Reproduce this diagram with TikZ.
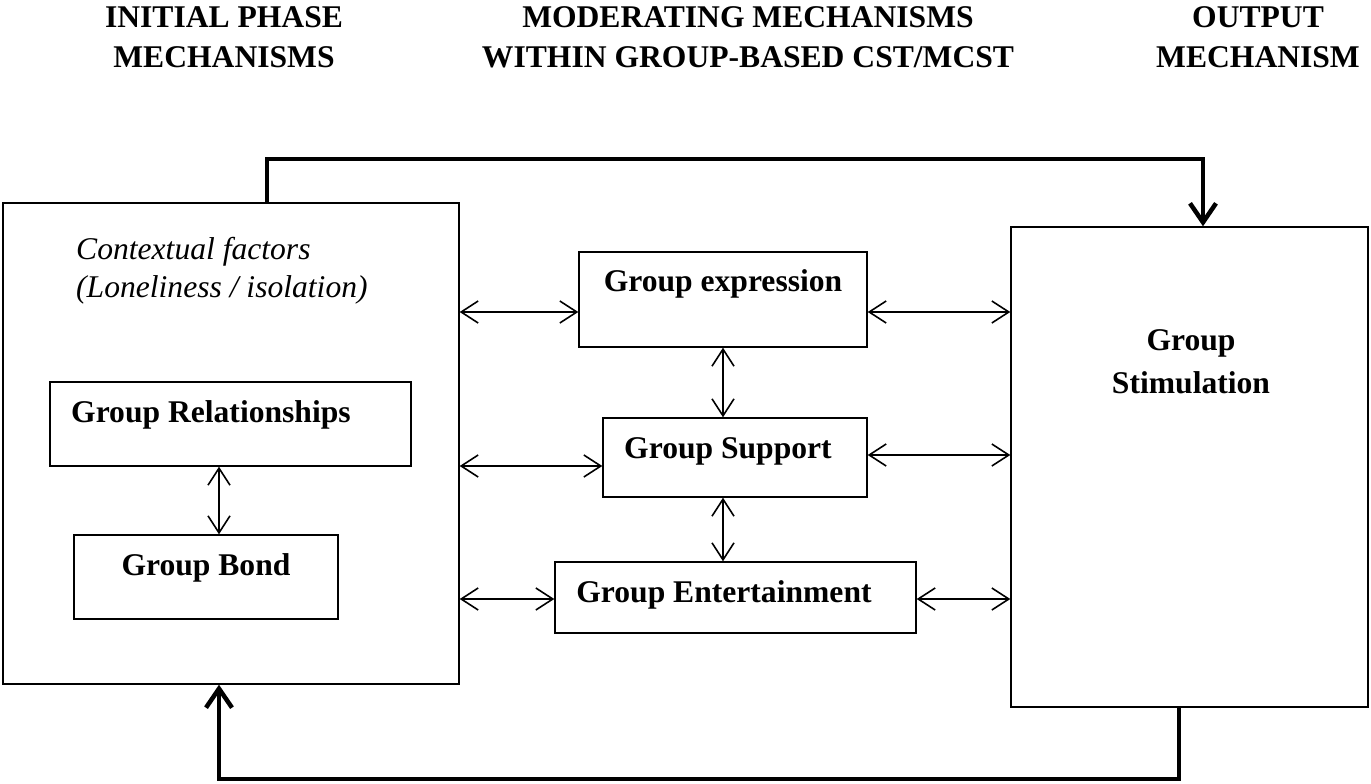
\documentclass[tikz,border=0pt]{standalone}
\usepackage{fontspec}
\setmainfont{Liberation Serif}
\usetikzlibrary{arrows.meta}
\begin{document}
\begin{tikzpicture}[x=1pt,y=-1pt,
  box/.style={draw, line width=1.4pt, rectangle, inner sep=0pt},
  lbl/.style={font=\fontsize{31.6}{37}\selectfont\bfseries, inner sep=0pt},
  ital/.style={font=\fontsize{31.6}{37}\selectfont\itshape, inner sep=0pt},
  arr/.style={line width=1.6pt, {Straight Barb[length=17pt,width=22pt]}-{Straight Barb[length=17pt,width=22pt]}},
  fat/.style={line width=4.5pt, line join=miter, -{Straight Barb[length=19pt,width=26pt]}}
]
\fill[white] (0,0) rectangle (1371,784);
\useasboundingbox (0,0) rectangle (1371,784);

% headers
\node[lbl, anchor=base] (h1a) at (224,28) {INITIAL PHASE};
\node[lbl, anchor=base] (h1b) at (224,67) {MECHANISMS};
\node[lbl, anchor=base] (h2a) at (748,28) {MODERATING MECHANISMS};
\node[lbl, anchor=base] (h2b) at (748,67) {WITHIN GROUP-BASED CST/MCST};
\node[lbl, anchor=base] (h3a) at (1258,28) {OUTPUT};
\node[lbl, anchor=base] (h3b) at (1258,67) {MECHANISM};

% left box
\node[box, minimum width=456pt, minimum height=481pt] (ctx) at (231,443.5) {};
\node[ital, anchor=base west] (ctxa) at (76,259) {Contextual factors};
\node[ital, anchor=base west] (ctxb) at (76,297) {(Loneliness / isolation)};

\node[box, minimum width=361pt, minimum height=84pt] (rel) at (230.5,424) {};
\node[lbl, anchor=base west] (relt) at (71,422) {Group Relationships};
\node[box, minimum width=264pt, minimum height=84pt] (bond) at (206,577) {};
\node[lbl, anchor=base] (bondt) at (206,575) {Group Bond};

% middle boxes
\node[box, minimum width=288pt, minimum height=95pt] (expr) at (723,299.5) {};
\node[lbl, anchor=base] (exprt) at (723,291) {Group expression};
\node[box, minimum width=264pt, minimum height=79pt] (sup) at (735,457.5) {};
\node[lbl, anchor=base] (supt) at (728,458) {Group Support};
\node[box, minimum width=361pt, minimum height=71pt] (ent) at (735.5,597.5) {};
\node[lbl, anchor=base] (entt) at (724,602) {Group Entertainment};

% right box
\node[box, minimum width=357pt, minimum height=480pt] (stim) at (1189.5,467) {};
\node[lbl, anchor=base] (stima) at (1191,350) {Group};
\node[lbl, anchor=base] (stimb) at (1191,393) {Stimulation};

% helper coordinates
\coordinate (ax) at (219,0);
\coordinate (mx) at (723,0);
\coordinate (y1) at (0,312);
\coordinate (y2) at (0,466);
\coordinate (y2r) at (0,455);
\coordinate (y3) at (0,599);
\coordinate (t1) at (267,159);
\coordinate (t2) at (1203,159);
\coordinate (b1) at (219,779);
\coordinate (b2) at (1179,779);

% thin double arrows
\draw[arr] (rel.south -| ax) -- (bond.north -| ax);
\draw[arr] (expr.south -| mx) -- (sup.north -| mx);
\draw[arr] (sup.south -| mx) -- (ent.north -| mx);
\draw[arr] (ctx.east |- y1) -- (expr.west |- y1);
\draw[arr] (ctx.east |- y2) -- (sup.west |- y2);
\draw[arr] (ctx.east |- y3) -- (ent.west |- y3);
\draw[arr] (expr.east |- y1) -- (stim.west |- y1);
\draw[arr] (sup.east |- y2r) -- (stim.west |- y2r);
\draw[arr] (ent.east |- y3) -- (stim.west |- y3);

% thick feedback arrows
\draw[fat] (ctx.north -| t1) -- (t1) -- (t2) -- (stim.north -| t2);
\draw[fat] (stim.south -| b2) -- (b2) -- (b1) -- (ctx.south -| b1);
\end{tikzpicture}
\end{document}
